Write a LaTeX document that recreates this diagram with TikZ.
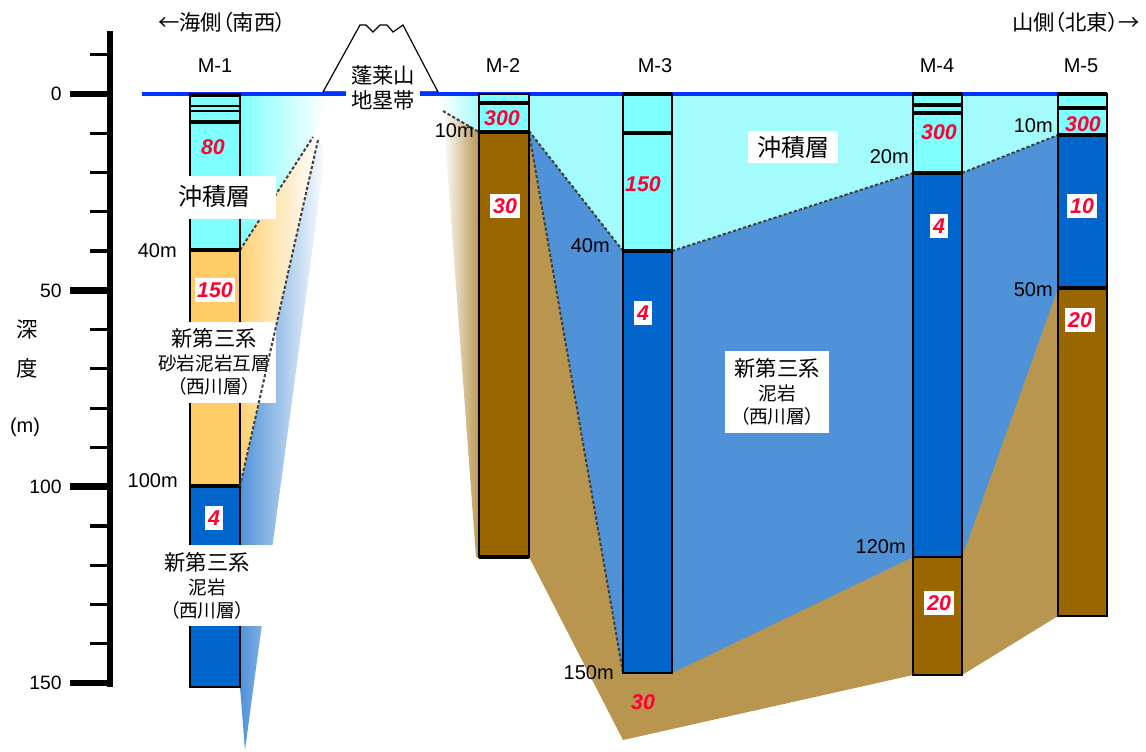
\documentclass[tikz,border=0pt]{standalone}
\usepackage{fontspec}
\setmainfont{Liberation Sans}
\newfontfamily\jp[RawFeature=+palt]{Noto Sans CJK JP}
\usetikzlibrary{positioning}

\definecolor{alluvium}{HTML}{80FFFF}
\definecolor{alluviumbg}{HTML}{A4FBFB}
\definecolor{sandmud}{HTML}{FFCC66}
\definecolor{mudstone}{HTML}{0066CC}
\definecolor{mudstonebg}{HTML}{5092D8}
\definecolor{bedrock}{HTML}{996600}
\definecolor{bedrockbg}{HTML}{B8964F}
\definecolor{valred}{HTML}{FF0033}
\definecolor{sealine}{HTML}{0033FF}
\definecolor{dashgray}{HTML}{404040}
\newcommand{\lyrsmall}{\fontsize{14}{17.5}\selectfont}

\begin{document}
\begin{tikzpicture}[x=0.75pt, y=-0.75pt,
    col/.style={draw=black, line width=0.8pt},
    bar/.style={line width=3pt},
    bound/.style={draw=dashgray, line width=1.5pt, dash pattern=on 2.4pt off 1.6pt},
    val/.style={text=valred, inner sep=1.5pt, font=\fontsize{16}{18}\selectfont\bfseries\itshape},
    valbox/.style={val, fill=white, inner xsep=2pt, inner ysep=3.5pt},
    depth/.style={anchor=east, inner sep=0pt, font=\fontsize{15}{18}\selectfont},
    well/.style={font=\fontsize{15}{18}\selectfont},
    layer/.style={align=center, inner sep=0pt, font=\jp\fontsize{16}{17.5}\selectfont},
    side/.style={font=\jp\fontsize{16}{18}\selectfont}]
  \useasboundingbox (0,0) rectangle (1146,751);

  % ---------------- depth scale (3.927 px per metre, 0 m at y=94)
  \draw[line width=3.8pt] (110,31) -- (110,687);
  \foreach \d in {-10,10,20,30,40,60,70,80,90,110,120,130,140}
    \draw[line width=2.4pt] (90,{94+3.927*\d}) -- (110,{94+3.927*\d});
  \foreach \d in {0,50,100,150} {
    \draw[line width=5pt] (70,{94+3.927*\d}) -- (110,{94+3.927*\d});
    \node[anchor=east, inner sep=0pt, font=\fontsize{14.5}{17}\selectfont] (d\d) at (62,{94+3.927*\d}) {\d};
  }
  \node[side] (ax1) at (27,330) {深};
  \node[side] (ax2) at (27,368) {度};
  \node[font=\fontsize{15}{18}\selectfont] (ax3) at (25,427) {(m)};

  % ---------------- fading wedges beside M-1
  \shade[left color=alluvium, right color=white] (240,94) -- (326,94) -- (313,137) -- (240,250) -- cycle;
  \shade[left color=mudstonebg, right color=white] (318,140) -- (326,148) -- (245,750) -- (240,687) -- (240,486) -- cycle;
  \shade[left color=sandmud!90, right color=white] (240,250) -- (313,137) -- (318,140) -- (240,486) -- cycle;
  \draw[bound] (240,250) -- (313,137);

  % ---------------- fading wedges left of M-2
  \shade[left color=white, right color=alluviumbg] (440,94) -- (479,94) -- (479,132) -- (443,111) -- cycle;
  \shade[left color=white, right color=bedrockbg] (443,111) -- (479,132) -- (479,557) -- (476,557) -- cycle;
  \draw[bound] (443,111) -- (479,132);

  % ---------------- section M-2 .. M-5
  \fill[bedrockbg] (529,131) -- (529,557) -- (623,740) -- (913,675) -- (962,675) -- (1058,616) -- (1058,131) -- cycle;
  \fill[mudstonebg] (529,131) -- (623,673) -- (672,673) -- (913,557) -- (962,557) -- (1058,288) -- (1058,94) -- (529,94) -- cycle;
  \fill[alluviumbg] (529,94) -- (1058,94) -- (1058,135) -- (962,173) -- (913,173) -- (672,251) -- (623,251) -- (529,131) -- cycle;
  \draw[bound] (529,131) -- (623,251);
  \draw[bound] (529,133) -- (623,673);
  \draw[bound] (672,251) -- (913,173);
  \draw[bound] (962,173) -- (1058,135);

  % ground level and horst
  \draw[line width=0.9pt] (323,92) -- (360,25) -- (366,25) -- (373,32) -- (380,25) -- (387,25) -- (393,32) -- (403,25) -- (438,92) -- cycle;
  \draw[sealine, line width=2.3pt] (142,94) -- (1058,94);
  \node[align=center, fill=white, inner xsep=3.5pt, inner ysep=1pt, font=\jp\fontsize{16}{19}\selectfont] (horst) at (383,88) {蓬莱山\\地塁帯};

  % ---------------- boreholes
  % M-1
  \filldraw[col, fill=alluvium] (190,94) rectangle (240,250);
  \filldraw[col, fill=sandmud] (190,250) rectangle (240,486);
  \filldraw[col, fill=mudstone] (190,486) rectangle (240,687);
  \foreach \y in {95,122,250,486} \draw[bar] (190,\y) -- (240,\y);
  \foreach \y in {105.8,110.6} \draw[line width=1.6pt] (190,\y) -- (240,\y);
  % M-2
  \filldraw[col, fill=alluvium] (479,94) rectangle (529,132);
  \filldraw[col, fill=bedrock] (479,132) rectangle (529,557);
  \foreach \y in {132,557} \draw[bar] (479,\y) -- (529,\y);
  \draw[line width=2.4pt] (479,103) -- (529,103);
  % M-3
  \filldraw[col, fill=alluvium] (623,94) rectangle (672,251);
  \filldraw[col, fill=mudstone] (623,251) rectangle (672,673);
  \foreach \y in {94,133,251} \draw[bar] (623,\y) -- (672,\y);
  \draw[line width=1.5pt] (623,673) -- (672,673);
  % M-4
  \filldraw[col, fill=alluvium] (913,94) rectangle (962,173);
  \filldraw[col, fill=mudstone] (913,173) rectangle (962,557);
  \filldraw[col, fill=bedrock] (913,557) rectangle (962,675);
  \foreach \y in {94,105,113,173} \draw[bar] (913,\y) -- (962,\y);
  % M-5
  \filldraw[col, fill=alluvium] (1058,94) rectangle (1107,135);
  \filldraw[col, fill=mudstone] (1058,135) rectangle (1107,288);
  \filldraw[col, fill=bedrock] (1058,288) rectangle (1107,616);
  \foreach \y in {94,108,135,288} \draw[bar] (1058,\y) -- (1107,\y);

  % ---------------- labels
  \node[side] (sea) at (222,22) {←海側（南西）};
  \node[side] (hill) at (1076,22) {山側（北東）→};
  \node[well] (m1) at (215,66) {M-1};
  \node[well] (m2) at (503,66) {M-2};
  \node[well] (m3) at (655,66) {M-3};
  \node[well] (m4) at (937,66) {M-4};
  \node[well] (m5) at (1081,66) {M-5};

  \fill[white] (176,176) rectangle (276,219);
  \node[layer, font=\jp\fontsize{18}{20}\selectfont] (allu1) at (214,196) {沖積層};
  \fill[white] (157,322) rectangle (276,403);
  \node[layer] (sand1) at (214,362) {新第三系\\{\lyrsmall 砂岩泥岩互層}\\{\lyrsmall （西川層）}};
  \fill[white] (155,545) rectangle (274,626);
  \node[layer] (mud1) at (207,586) {新第三系\\{\lyrsmall 泥岩}\\{\lyrsmall （西川層）}};
  \draw[bound] (318,140) -- (240,486);
  \node[layer, fill=white, inner xsep=7pt, inner ysep=4pt, font=\jp\fontsize{18}{20}\selectfont] (allu2) at (793,147) {沖積層};
  \node[layer, fill=white, inner xsep=7pt, inner ysep=6pt] (mud2) at (777,392) {新第三系\\{\lyrsmall 泥岩}\\{\lyrsmall （西川層）}};

  \node[val] (v1a) at (213,147) {80};
  \node[valbox] (v1b) at (215,290) {150};
  \node[valbox] (v1c) at (214,518) {4};
  \node[val] (v2a) at (502,118) {300};
  \node[valbox] (v2b) at (505,206) {30};
  \node[val] (v3a) at (643,184) {150};
  \node[valbox] (v3b) at (643,313) {4};
  \node[val] (v3c) at (643,702) {30};
  \node[val] (v4a) at (939,132) {300};
  \node[valbox] (v4b) at (939,226) {4};
  \node[valbox] (v4c) at (939,603) {20};
  \node[val] (v5a) at (1083,124) {300};
  \node[valbox] (v5b) at (1082,206) {10};
  \node[valbox] (v5c) at (1080,320) {20};

  \node[depth] (z1a) at (177,251) {40m};
  \node[depth] (z1b) at (178,481) {100m};
  \node[depth] (z2a) at (474,131) {10m};
  \node[depth] (z3a) at (610,246) {40m};
  \node[depth] (z3b) at (614,673) {150m};
  \node[depth] (z4a) at (909,157) {20m};
  \node[depth] (z4b) at (906,547) {120m};
  \node[depth] (z5a) at (1053,126) {10m};
  \node[depth] (z5b) at (1053,290) {50m};
\end{tikzpicture}
\end{document}
